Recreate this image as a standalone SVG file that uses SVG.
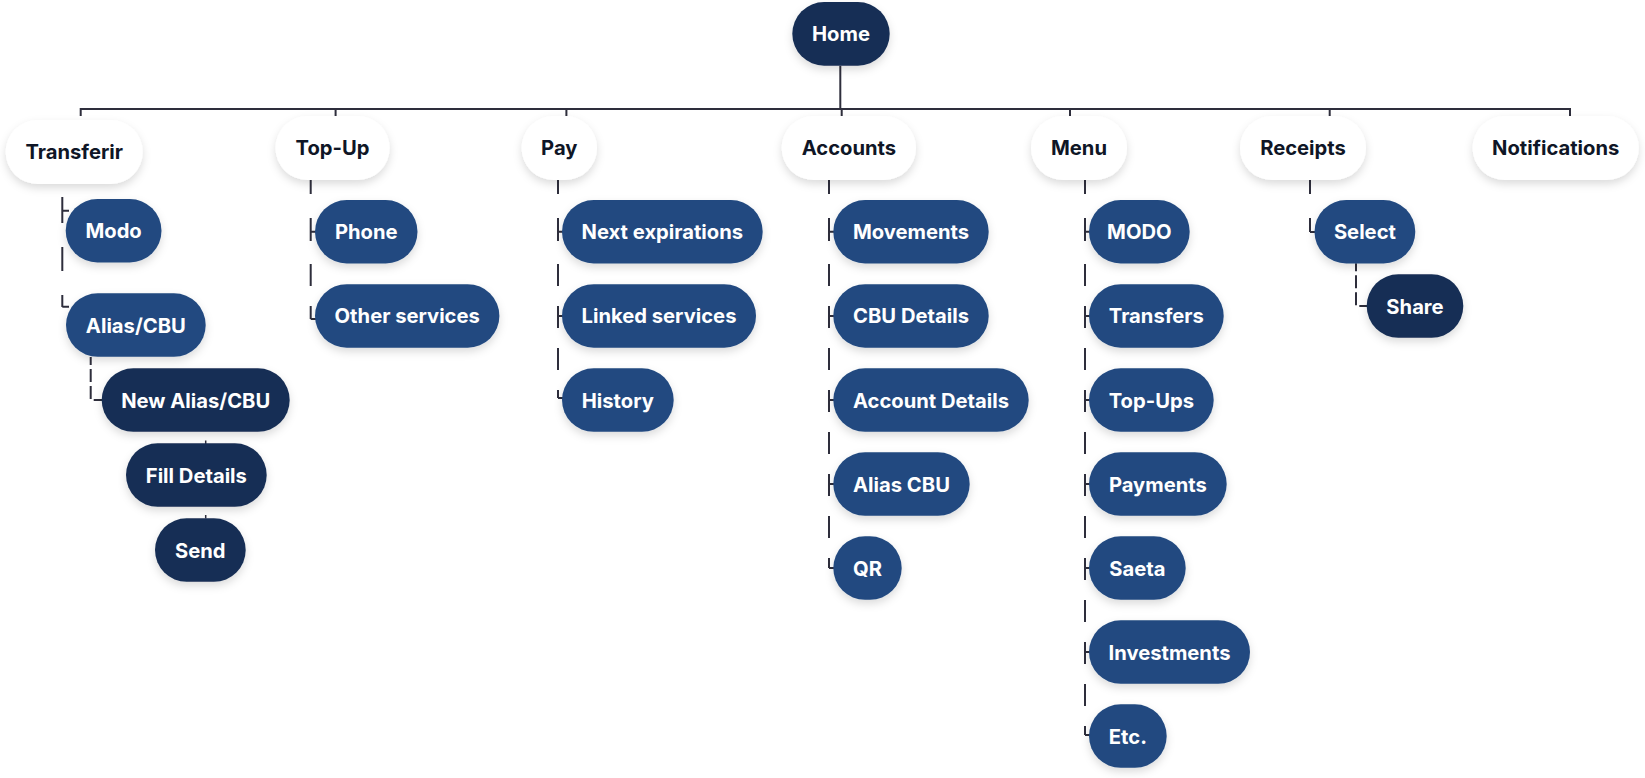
<svg xmlns="http://www.w3.org/2000/svg" width="1645" height="778" viewBox="0 0 1645 778">
<defs>
<filter id="sh" x="-20%" y="-30%" width="140%" height="180%">
<feDropShadow dx="0" dy="4" stdDeviation="4" flood-color="#000" flood-opacity="0.14"/>
</filter>
<style>
.w{fill:#ffffff;filter:url(#sh)}
.b{fill:#224a80;filter:url(#sh)}
.d{fill:#172e54;filter:url(#sh)}
text{font-family:Inter,"Liberation Sans",sans-serif;font-weight:700;font-size:20.2px;text-anchor:middle}
.tk{fill:#0f1626}
.tw{fill:#ffffff}
.ln{fill:none;stroke:#2e2e3c;stroke-width:2}
.ds{fill:none;stroke:#2e2e3c;stroke-width:2;stroke-dasharray:14 24 23 23 22 20 22 20 22 20 22 20 22 20 22 20 22 20 22 20 22 20 22 20 22 20}
.sd{fill:none;stroke:#2e2e3c;stroke-width:2;stroke-dasharray:8 4 13 4 13 4 13 4}
.tn{fill:none;stroke:#2e2e3c;stroke-width:1.5}
</style>
</defs>
<rect width="1645" height="778" fill="#ffffff"/>

<g id="connectors">
<path class="ln" d="M840.3 65.7V109"/>
<path class="ln" d="M80.7 116V109H1570V116"/>
<path class="ln" d="M335.6 109V116M566.4 109V116M841.7 109V116M1070 109V116M1329.7 109V116"/>
<!-- Transferir -->
<path class="ln" style="stroke-dasharray:26 24 24 24 12" d="M62.3 197V307"/>
<path class="ln" d="M62.3 210.7H69M62.3 306.7H69"/>
<!-- Top-Up -->
<path class="ds" d="M310.7 180V319"/>
<path class="ln" d="M310.7 231.7H318M310.7 319H318"/>
<!-- Pay -->
<path class="ds" d="M558 180V398"/>
<path class="ln" d="M558 231.7H565M558 316H565M558 398H565"/>
<!-- Accounts -->
<path class="ds" d="M829 180V568"/>
<path class="ln" d="M829 231.7H836M829 316H836M829 400H836M829 484H836M829 568H836"/>
<!-- Menu -->
<path class="ds" d="M1085 180V735"/>
<path class="ln" d="M1085 231.7H1092M1085 316H1092M1085 400H1092M1085 484H1092M1085 568H1092M1085 652H1092M1085 735H1092"/>
<!-- Receipts -->
<path class="ds" d="M1310 180V232"/>
<path class="ln" d="M1310 232H1317"/>
<!-- Sub-flows -->
<path class="sd" d="M90.7 357V400H103"/>
<path class="sd" d="M1356 263.3V306H1368"/>
<path class="tn" d="M205.7 440.5V444M205.7 515V518.5"/>
</g>

<g id="home"><rect class="d" x="792.3" y="2" width="97.4" height="63.7" rx="31.85"/><text class="tw" x="841" y="41.4">Home</text></g>

<g id="transferir"><rect class="w" x="5.7" y="120" width="137" height="64" rx="32"/><text class="tk" x="74.2" y="159.4">Transferir</text></g>
<g id="topup"><rect class="w" x="275.5" y="116" width="114.1" height="64" rx="32"/><text class="tk" x="332.5" y="155.4">Top-Up</text></g>
<g id="pay"><rect class="w" x="521.6" y="116" width="75.4" height="64" rx="32"/><text class="tk" x="559.3" y="155.4">Pay</text></g>
<g id="accounts"><rect class="w" x="781.7" y="116" width="134.3" height="64" rx="32"/><text class="tk" x="848.9" y="155.4">Accounts</text></g>
<g id="menu"><rect class="w" x="1031" y="116" width="96" height="64" rx="32"/><text class="tk" x="1079" y="155.4">Menu</text></g>
<g id="receipts"><rect class="w" x="1240" y="116" width="126" height="64" rx="32"/><text class="tk" x="1303" y="155.4">Receipts</text></g>
<g id="notifications"><rect class="w" x="1472.6" y="116" width="166.2" height="64" rx="32"/><text class="tk" x="1555.7" y="155.4">Notifications</text></g>

<g id="modo"><rect class="b" x="65.7" y="199" width="95.8" height="63.5" rx="31.75"/><text class="tw" x="113.6" y="238.2">Modo</text></g>
<g id="alias-cbu"><rect class="b" x="66" y="293.3" width="139.7" height="63.5" rx="31.75"/><text class="tw" x="135.85" y="332.5">Alias/CBU</text></g>
<g id="new-alias-cbu"><rect class="d" x="101.7" y="368.3" width="188" height="63.5" rx="31.75"/><text class="tw" x="195.7" y="407.5">New Alias/CBU</text></g>
<g id="fill-details"><rect class="d" x="126" y="443.3" width="140.7" height="63.5" rx="31.75"/><text class="tw" x="196.35" y="482.5">Fill Details</text></g>
<g id="send"><rect class="d" x="155" y="518.3" width="90.7" height="63.5" rx="31.75"/><text class="tw" x="200.35" y="557.5">Send</text></g>

<g id="phone"><rect class="b" x="315" y="200" width="102.5" height="63.5" rx="31.75"/><text class="tw" x="366.25" y="239.2">Phone</text></g>
<g id="other-services"><rect class="b" x="315" y="284.2" width="184.4" height="63.5" rx="31.75"/><text class="tw" x="407.2" y="323.4">Other services</text></g>

<g id="next-expirations"><rect class="b" x="562" y="200" width="200.7" height="63.5" rx="31.75"/><text class="tw" x="662.35" y="239.2">Next expirations</text></g>
<g id="linked-services"><rect class="b" x="562" y="284.2" width="194" height="63.5" rx="31.75"/><text class="tw" x="659" y="323.4">Linked services</text></g>
<g id="history"><rect class="b" x="562" y="368.3" width="111.7" height="63.5" rx="31.75"/><text class="tw" x="617.85" y="407.5">History</text></g>

<g id="movements"><rect class="b" x="833.3" y="200" width="155.4" height="63.5" rx="31.75"/><text class="tw" x="911" y="239.2">Movements</text></g>
<g id="cbu-details"><rect class="b" x="833.3" y="284.2" width="155.4" height="63.5" rx="31.75"/><text class="tw" x="911" y="323.4">CBU Details</text></g>
<g id="account-details"><rect class="b" x="833.3" y="368.3" width="195.4" height="63.5" rx="31.75"/><text class="tw" x="931" y="407.5">Account Details</text></g>
<g id="alias-cbu-2"><rect class="b" x="833.3" y="452.3" width="136.4" height="63.5" rx="31.75"/><text class="tw" x="901.5" y="491.5">Alias CBU</text></g>
<g id="qr"><rect class="b" x="833.3" y="536.3" width="68.4" height="63.5" rx="31.75"/><text class="tw" x="867.5" y="575.5">QR</text></g>

<g id="modo-menu"><rect class="b" x="1089" y="200" width="100.7" height="63.5" rx="31.75"/><text class="tw" x="1139.35" y="239.2">MODO</text></g>
<g id="transfers"><rect class="b" x="1089" y="284.2" width="134.7" height="63.5" rx="31.75"/><text class="tw" x="1156.35" y="323.4">Transfers</text></g>
<g id="top-ups"><rect class="b" x="1089" y="368.3" width="124.7" height="63.5" rx="31.75"/><text class="tw" x="1151.35" y="407.5">Top-Ups</text></g>
<g id="payments"><rect class="b" x="1089" y="452.3" width="137.7" height="63.5" rx="31.75"/><text class="tw" x="1157.85" y="491.5">Payments</text></g>
<g id="saeta"><rect class="b" x="1089" y="536.3" width="96.7" height="63.5" rx="31.75"/><text class="tw" x="1137.35" y="575.5">Saeta</text></g>
<g id="investments"><rect class="b" x="1089" y="620.3" width="161" height="63.5" rx="31.75"/><text class="tw" x="1169.5" y="659.5">Investments</text></g>
<g id="etc"><rect class="b" x="1089" y="704.3" width="77.7" height="63.5" rx="31.75"/><text class="tw" x="1127.85" y="743.5">Etc.</text></g>

<g id="select"><rect class="b" x="1314.5" y="200" width="100.8" height="63.5" rx="31.75"/><text class="tw" x="1364.9" y="239.2">Select</text></g>
<g id="share"><rect class="d" x="1366.7" y="274.3" width="96.6" height="63.5" rx="31.75"/><text class="tw" x="1415" y="313.5">Share</text></g>
</svg>
